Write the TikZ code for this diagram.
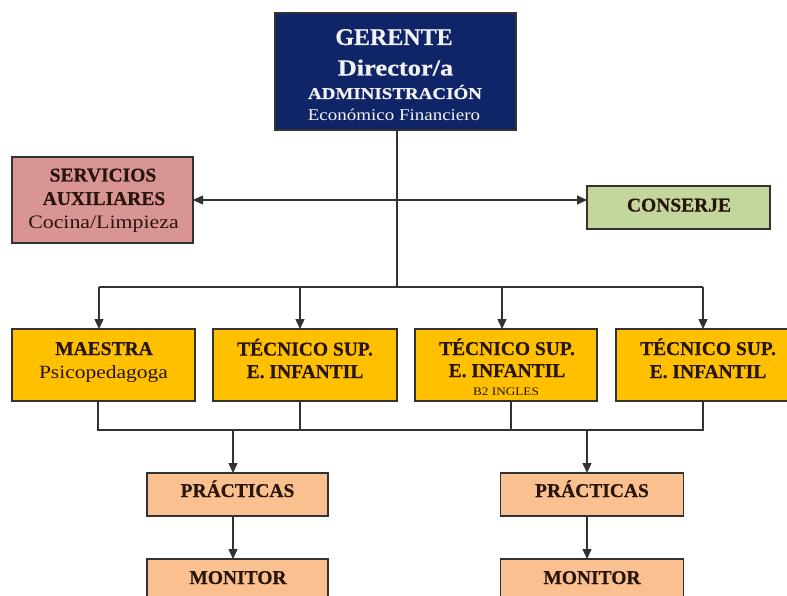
\documentclass[tikz,border=0pt]{standalone}
\usepackage{fontspec}
\setmainfont{Liberation Serif}[BoldFeatures={FakeBold=0.5}]
\newfontfamily\widefont{Liberation Serif}[FakeStretch=1.15, BoldFeatures={FakeBold=0.5}]
\usetikzlibrary{arrows.meta}

\definecolor{navy}{RGB}{16,37,104}
\definecolor{rosa}{RGB}{217,149,148}
\definecolor{verde}{RGB}{195,214,155}
\definecolor{ambar}{RGB}{255,192,0}
\definecolor{melocoton}{RGB}{250,192,144}
\definecolor{borde}{RGB}{50,50,50}
\definecolor{tinta}{RGB}{40,22,12}

\tikzset{
  box/.style={draw=borde, line width=1.5pt, inner sep=0pt, outer sep=0pt},
  wire/.style={draw=borde, line width=1.4pt},
  tip/.style={-{Triangle[length=10pt,width=9pt]}},
  twotip/.style={{Triangle[length=10pt,width=9pt]}-{Triangle[length=10pt,width=9pt]}},
  txt/.style={anchor=base, inner sep=0pt, text=tinta},
  head/.style={txt, font=\fontsize{19.5}{20}\selectfont\bfseries},
  sub/.style={txt, font=\widefont\fontsize{18.7}{20}\selectfont},
}

\begin{document}
\begin{tikzpicture}[x=1pt, y=-1pt]
\useasboundingbox (0,0) rectangle (787,596);

% boxes
\node[box, fill=navy, minimum width=241pt, minimum height=117pt] (ger) at (395.5,71.5) {};
\node[box, fill=rosa, minimum width=181pt, minimum height=86pt] (serv) at (102.5,200) {};
\node[box, fill=verde, minimum width=183pt, minimum height=43pt] (cons) at (678.5,207.5) {};

\node[box, fill=ambar, minimum width=183pt, minimum height=72pt] (mae) at (103.5,365) {};
\node[box, fill=ambar, minimum width=184pt, minimum height=72pt] (tec1) at (305,365) {};
\node[box, fill=ambar, minimum width=182pt, minimum height=72pt] (tec2) at (506,365) {};
\node[box, fill=ambar, minimum width=183pt, minimum height=72pt] (tec3) at (707.5,365) {};

\node[box, fill=melocoton, minimum width=181pt, minimum height=43pt] (pra1) at (237.5,494.5) {};
\node[box, fill=melocoton, minimum width=183pt, minimum height=43pt] (pra2) at (592,494.5) {};
\node[box, fill=melocoton, minimum width=181pt, minimum height=43pt] (mon1) at (237.5,580.5) {};
\node[box, fill=melocoton, minimum width=183pt, minimum height=43pt] (mon2) at (592,580.5) {};

% texts
\node[txt, text=white!95!black, font=\fontsize{24}{26}\selectfont\bfseries] (ger1) at (394,45) {GERENTE};
\node[txt, text=white!95!black, font=\widefont\fontsize{23}{25}\selectfont\bfseries] (ger2) at (395.5,75.5) {Director/a};
\node[txt, text=white!95!black, font=\widefont\fontsize{16.5}{18}\selectfont\bfseries] (ger3) at (395,99) {ADMINISTRACIÓN};
\node[txt, text=white!95!black, font=\widefont\fontsize{16.5}{18}\selectfont] (ger4) at (394,121) {Económico Financiero};

\node[head] (serv1) at (103,181.5) {SERVICIOS};
\node[head] (serv2) at (104,205) {AUXILIARES};
\node[txt, font=\widefont\fontsize{19}{20}\selectfont] (serv3) at (103.5,229) {Cocina/Limpieza};

\node[head] (cons1) at (679,211.5) {CONSERJE};

\node[head] (mae1) at (104,355) {MAESTRA};
\node[sub] (mae2) at (103.5,378) {Psicopedagoga};

\node[head] (tec1a) at (305,355.5) {TÉCNICO SUP.};
\node[head] (tec1b) at (305,378) {E. INFANTIL};
\node[head] (tec2a) at (507,355) {TÉCNICO SUP.};
\node[head] (tec2b) at (507,377) {E. INFANTIL};
\node[txt, font=\widefont\fontsize{11.5}{12}\selectfont] (tec2c) at (506,395) {B2 INGLES};
\node[head] (tec3a) at (708,355) {TÉCNICO SUP.};
\node[head] (tec3b) at (708,378) {E. INFANTIL};

\node[head] (pra1t) at (237.5,497) {PRÁCTICAS};
\node[head] (pra2t) at (592,497) {PRÁCTICAS};
\node[head] (mon1t) at (238,584) {MONITOR};
\node[head] (mon2t) at (592,584) {MONITOR};

% junction points of the wiring
\coordinate (trunk) at (397,287);
\coordinate (b1) at (99,287);
\coordinate (b2) at (300,287);
\coordinate (b3) at (502,287);
\coordinate (b4) at (703,287);
\coordinate (u1) at (98,430);
\coordinate (u2) at (300,430);
\coordinate (u3) at (511,430);
\coordinate (u4) at (703,430);
\coordinate (d1) at (233,430);
\coordinate (d2) at (587,430);

% manager to staff
\draw[wire] (trunk |- ger.south) -- (trunk);
\draw[wire, twotip] (serv.east) -- (serv.east -| cons.west);
\draw[wire] (b1) -- (b4);
\draw[wire, tip] (b1) -- (b1 |- mae.north);
\draw[wire, tip] (b2) -- (b2 |- tec1.north);
\draw[wire, tip] (b3) -- (b3 |- tec2.north);
\draw[wire, tip] (b4) -- (b4 |- tec3.north);

% staff to internships
\draw[wire] (u1 |- mae.south) -- (u1) -- (u4) -- (u4 |- tec3.south);
\draw[wire] (u2 |- tec1.south) -- (u2);
\draw[wire] (u3 |- tec2.south) -- (u3);
\draw[wire, tip] (d1) -- (d1 |- pra1.north);
\draw[wire, tip] (d2) -- (d2 |- pra2.north);
\draw[wire, tip] (d1 |- pra1.south) -- (d1 |- mon1.north);
\draw[wire, tip] (d2 |- pra2.south) -- (d2 |- mon2.north);
\end{tikzpicture}
\end{document}
